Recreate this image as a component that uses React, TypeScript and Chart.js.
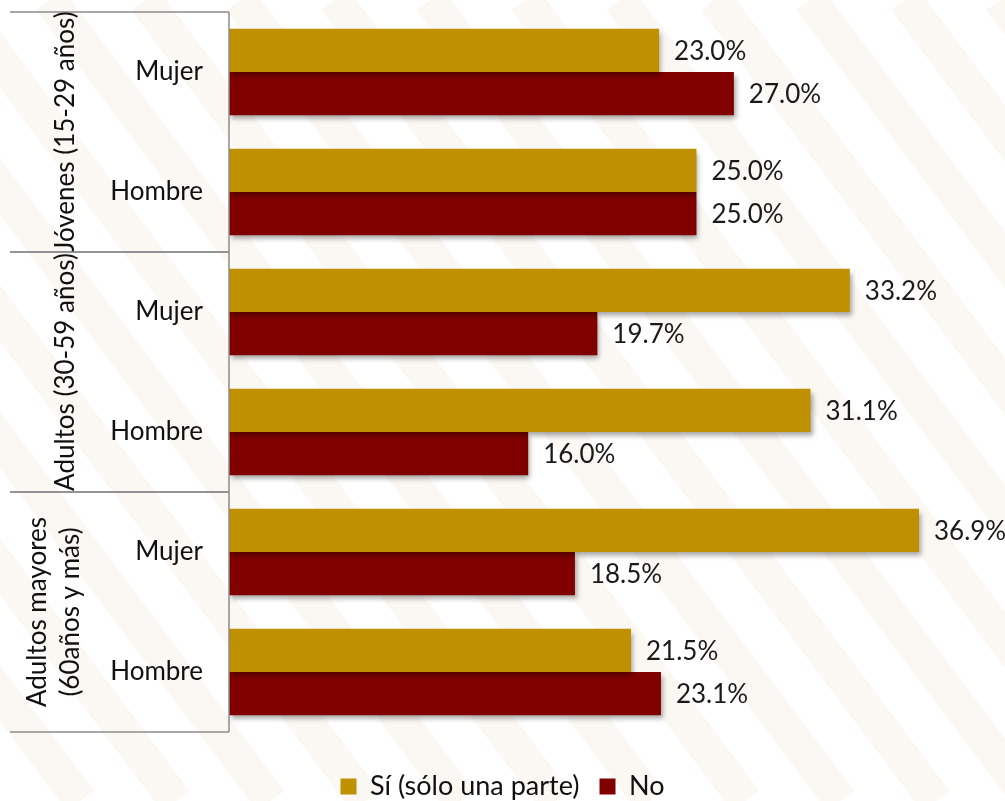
import React, { useEffect, useRef } from "react";
import { Chart, registerables } from "chart.js";

Chart.register(...registerables);

const categories = ["Mujer", "Hombre", "Mujer", "Hombre", "Mujer", "Hombre"];
const groups = [
  { lines: ["Jóvenes (15-29 años)"], from: 0, to: 1 },
  { lines: ["Adultos (30-59 años)"], from: 2, to: 3 },
  { lines: ["Adultos mayores", "(60años y más)"], from: 4, to: 5 },
];
const seriesSi = [23.0, 25.0, 33.2, 31.1, 36.9, 21.5];
const seriesNo = [27.0, 25.0, 19.7, 16.0, 18.5, 23.1];
const seriesNames = ["Sí (sólo una parte)", "No"];
const colors = ["#BF9000", "#800000"];

const FONT = "Lato, 'Open Sans', sans-serif";

const backgroundPlugin = {
  id: "bgStripes",
  beforeDraw(chart: any) {
    const ctx = chart.ctx;
    const w = chart.width;
    const h = chart.height;
    ctx.save();
    ctx.fillStyle = "#ffffff";
    ctx.fillRect(0, 0, w, h);
    ctx.strokeStyle = "rgba(236, 220, 198, 0.2)";
    ctx.lineWidth = 34;
    for (let x0 = -900; x0 < w + 200; x0 += 95) {
      ctx.beginPath();
      ctx.moveTo(x0, 0);
      ctx.lineTo(x0 + h * 0.75, h);
      ctx.stroke();
    }
    ctx.restore();
  },
};

const shadowPlugin = {
  id: "barShadow",
  beforeDatasetsDraw(chart: any) {
    const ctx = chart.ctx;
    ctx.save();
    ctx.shadowColor = "rgba(0,0,0,0.35)";
    ctx.shadowOffsetX = 2;
    ctx.shadowOffsetY = 4;
    ctx.shadowBlur = 5;
  },
  afterDatasetsDraw(chart: any) {
    chart.ctx.restore();
  },
};

const labelsPlugin = {
  id: "decor",
  afterDatasetsDraw(chart: any) {
    const ctx = chart.ctx;
    ctx.save();
    ctx.font = `26px ${FONT}`;
    ctx.fillStyle = "#1a1a1a";
    ctx.textBaseline = "middle";
    ctx.textAlign = "left";
    chart.data.datasets.forEach((ds: any, i: number) => {
      const meta = chart.getDatasetMeta(i);
      meta.data.forEach((el: any, j: number) => {
        ctx.fillText(ds.data[j].toFixed(1) + "%", el.x + 15, el.y + 1);
      });
    });
    ctx.restore();
  },
  afterDraw(chart: any) {
    const ctx = chart.ctx;
    const area = chart.chartArea;
    const y = chart.scales.y;
    ctx.save();
    ctx.strokeStyle = "#8c8c8c";
    ctx.lineWidth = 1.5;
    ctx.beginPath();
    ctx.moveTo(area.left, area.top);
    ctx.lineTo(area.left, area.bottom);
    ctx.stroke();
    const step = y.getPixelForTick(1) - y.getPixelForTick(0);
    ctx.font = `26px ${FONT}`;
    ctx.fillStyle = "#111";
    ctx.textAlign = "right";
    ctx.textBaseline = "middle";
    categories.forEach((c, i) => {
      ctx.fillText(c, area.left - 26, y.getPixelForTick(i));
    });
    ctx.textAlign = "center";
    groups.forEach((g) => {
      const top = y.getPixelForTick(g.from) - step / 2;
      const bot = y.getPixelForTick(g.to) + step / 2;
      ctx.beginPath();
      ctx.moveTo(10, top);
      ctx.lineTo(area.left, top);
      ctx.moveTo(10, bot);
      ctx.lineTo(area.left, bot);
      ctx.stroke();
      const cy = (top + bot) / 2;
      const n = g.lines.length;
      g.lines.forEach((line, k) => {
        const cx = n === 1 ? 66 : 38 + k * 33;
        ctx.save();
        ctx.translate(cx, cy);
        ctx.rotate(-Math.PI / 2);
        ctx.fillText(line, 0, 0);
        ctx.restore();
      });
    });
    ctx.restore();
  },
};

export default function App() {
  const ref = useRef<HTMLCanvasElement>(null);
  useEffect(() => {
    if (!ref.current) return;
    const chart = new Chart(ref.current, {
      type: "bar",
      data: {
        labels: categories,
        datasets: [
          { label: seriesNames[0], data: seriesSi, backgroundColor: colors[0], borderWidth: 0 },
          { label: seriesNames[1], data: seriesNo, backgroundColor: colors[1], borderWidth: 0 },
        ],
      },
      options: {
        indexAxis: "y",
        animation: false,
        responsive: false,
        maintainAspectRatio: false,
        layout: { padding: { left: 0, right: 0, top: 12, bottom: -9 } },
        datasets: { bar: { categoryPercentage: 0.72, barPercentage: 1 } },
        scales: {
          x: {
            display: true,
            min: 0,
            max: 41.5,
            grid: { display: false },
            border: { display: false },
            ticks: { display: false },
            afterFit(scale: any) {
              scale.height = 21;
            },
          },
          y: {
            display: true,
            grid: { display: false },
            border: { display: false },
            ticks: { display: false },
            afterFit(scale: any) {
              scale.width = 229;
            },
          },
        },
        plugins: {
          legend: {
            position: "bottom",
            labels: {
              font: { family: FONT, size: 27 },
              color: "#111",
              boxWidth: 16,
              boxHeight: 16,
              padding: 20,
            },
          },
          tooltip: { enabled: false },
        },
      },
      plugins: [backgroundPlugin, shadowPlugin, labelsPlugin],
    });
    return () => chart.destroy();
  }, []);
  return (
    <div style={{ position: "fixed", left: 0, top: 0, width: 1005, height: 801, background: "#ffffff" }}>
      <canvas ref={ref} width={1005} height={801} style={{ width: 1005, height: 801 }} />
    </div>
  );
}
